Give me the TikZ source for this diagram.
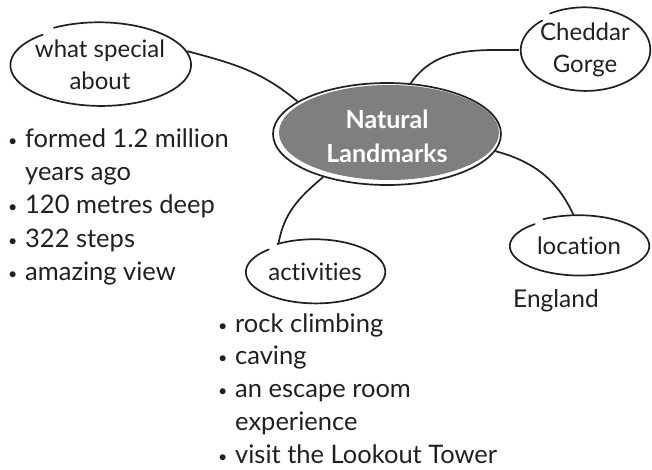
\documentclass[tikz,border=0pt]{standalone}
\usepackage{fontspec}
\setmainfont{Lato}[Ligatures=NoCommon]
\usetikzlibrary{shapes.geometric}
\definecolor{natgray}{RGB}{127,127,130}
\definecolor{ink}{RGB}{35,31,32}
\newcommand\bul{\makebox[17pt][l]{\raisebox{1pt}{\fontsize{16}{16}\selectfont•}}}
\newcommand\handell[4]{%
  \draw[outline, shift={(#1)}] plot[domain=0:350, samples=90, smooth]
    ({#2*(1-0.03*\x/350)*cos(#4-\x)}, {#3*(1-0.08*\x/350)*sin(#4-\x)});}
\tikzset{
  outline/.style={draw=ink, line width=1.7pt, line cap=round},
  link/.style={draw=ink, line width=1.7pt},
  bubble/.style={ellipse, inner sep=0pt, align=center, text=ink,
    font=\fontsize{24}{32}\selectfont},
  lbl/.style={anchor=base west, inner sep=0pt, text=ink,
    font=\fontsize{25.5}{28}\selectfont},
}
\begin{document}
\begin{tikzpicture}[x=1pt,y=1pt]
\useasboundingbox (0,0) rectangle (652,-469);
% bubbles
\node[bubble, minimum width=184pt, minimum height=86pt] (what) at (100,-65) {what special\\about};
\handell{what.center}{92}{43}{120}
\node[bubble, minimum width=132pt, minimum height=86pt] (ched) at (585,-50) {Cheddar\\Gorge};
\handell{ched.center}{66}{43}{122}
\node[bubble, minimum width=142pt, minimum height=62pt] (loc) at (579,-246) {location};
\handell{loc.center}{71}{31}{120}
\node[bubble, minimum width=142pt, minimum height=66pt] (act) at (315,-272) {activities};
\handell{act.center}{71}{33}{122}
% central
\node[ellipse, draw=ink, line width=1.7pt, fill=white, minimum width=228pt, minimum height=102pt, inner sep=0pt] (nat) at (387,-134) {};
\fill[natgray] ([xshift=2pt,yshift=1.5pt]nat.center) ellipse [x radius=110pt, y radius=47.5pt];
\node[bubble, text=white, font=\fontsize{25}{34}\selectfont\bfseries] (natt) at ([yshift=-2pt]nat.center) {Natural\\Landmarks};
% connectors
\draw[link] (what.9) to[out=-15, in=140] (nat.160);
\draw[link] (nat.65) to[out=55, in=180] (ched.west);
\draw[link] (nat.-9) to[out=-15, in=115] (loc.100);
\draw[link] (nat.214) to[out=-140, in=80] (act.142);
% texts
\node[lbl, font=\fontsize{24.5}{28}\selectfont] (e) at (513,-307) {England};
\node[lbl] (l1) at (8,-147) {\bul formed 1.2 million};
\node[lbl] (l2) at (8,-180) {\hphantom{\bul}years ago};
\node[lbl] (l3) at (8,-213) {\bul 120 metres deep};
\node[lbl] (l4) at (8,-247) {\bul 322 steps};
\node[lbl] (l5) at (8,-280) {\bul amazing view};
\node[lbl] (b1) at (218,-332) {\bul rock climbing};
\node[lbl] (b2) at (218,-364) {\bul caving};
\node[lbl] (b3) at (218,-397) {\bul an escape room};
\node[lbl] (b4) at (218,-430) {\hphantom{\bul}experience};
\node[lbl] (b5) at (218,-463) {\bul visit the Lookout Tower};
\end{tikzpicture}
\end{document}
